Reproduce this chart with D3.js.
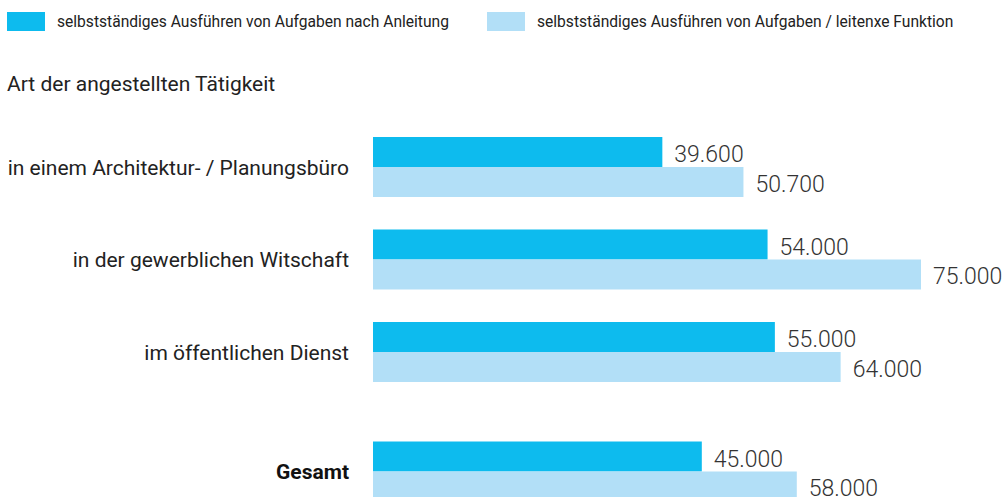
<!DOCTYPE html>
<html>
<head>
<meta charset="utf-8">
<script src="https://cdn.jsdelivr.net/npm/d3@7"></script>
<style>
  body { margin: 0; background: #fff; }
  svg { display: block; font-family: Roboto, "Noto Sans", sans-serif; }
</style>
</head>
<body>
<svg id="chart"></svg>
<script>
let categories = [
  "in einem Architektur- / Planungsbüro",
  "in der gewerblichen Witschaft",
  "im öffentlichen Dienst",
  "Gesamt"
];
let seriesNames = [
  "selbstständiges Ausführen von Aufgaben nach Anleitung",
  "selbstständiges Ausführen von Aufgaben / leitenxe Funktion"
];
let nachAnleitung = [39600, 54000, 55000, 45000];
let leitendeFunktion = [50700, 75000, 64000, 58000];
let colors = ["#0dbbee", "#b2dff7"];
let title = "Art der angestellten Tätigkeit";

let width = 1006, height = 497;
let svg = d3.select("#chart").attr("width", width).attr("height", height);

let de = d3.formatLocale({ decimal: ",", thousands: ".", grouping: [3], currency: ["", " €"] });
let fmt = de.format(",d");

let rows = categories.map((c, i) => ({
  name: c,
  values: [nachAnleitung[i], leitendeFunktion[i]],
  total: c === "Gesamt"
}));

let x = d3.scaleLinear().domain([0, 75000]).range([373, 921]);

// 60px per group, 92.5px step; the total row is pushed down a bit
let y = d3.scaleBand().domain(d3.range(rows.length)).range([137, 474.5]).paddingInner(0.3514).paddingOuter(0);
let totalGap = 27;
let inner = d3.scaleBand().domain([0, 1]).range([0, y.bandwidth()]);

// legend
let legend = svg.append("g").attr("class", "legend");
let legendX = [7, 487];
seriesNames.forEach((s, i) => {
  legend.append("rect")
    .attr("x", legendX[i]).attr("y", 12)
    .attr("width", 38).attr("height", 19)
    .attr("fill", colors[i]);
  legend.append("text")
    .attr("x", legendX[i] + 50).attr("y", 27)
    .attr("font-size", 15.6).attr("fill", "#222")
    .text(s);
});

svg.append("text")
  .attr("x", 7).attr("y", 91)
  .attr("font-size", 21).attr("fill", "#222")
  .text(title);

let groups = svg.selectAll("g.row")
  .data(rows)
  .enter()
  .append("g")
  .attr("class", "row")
  .attr("transform", (d, i) => "translate(0," + (y(i) + (d.total ? totalGap : 0)) + ")");

groups.append("text")
  .attr("x", 349)
  .attr("y", inner.bandwidth() + 8)
  .attr("text-anchor", "end")
  .attr("font-size", 21)
  .attr("font-weight", (d) => (d.total ? 700 : 400))
  .attr("fill", (d) => (d.total ? "#111" : "#222"))
  .text((d) => d.name);

groups.selectAll("rect")
  .data((d) => d.values)
  .enter()
  .append("rect")
  .attr("x", x(0))
  .attr("y", (v, j) => inner(j))
  .attr("width", (v) => x(v) - x(0))
  .attr("height", inner.bandwidth())
  .attr("fill", (v, j) => colors[j]);

groups.selectAll("text.value")
  .data((d) => d.values)
  .enter()
  .append("text")
  .attr("class", "value")
  .attr("x", (v) => x(v) + 12)
  .attr("y", (v, j) => inner(j) + 25)
  .attr("font-size", 23)
  .attr("font-weight", 300)
  .attr("fill", "#333")
  .text((v) => fmt(v));
</script>
</body>
</html>
